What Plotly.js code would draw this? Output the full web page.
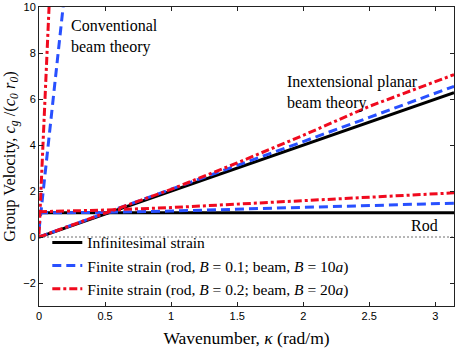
<!DOCTYPE html>
<html>
<head>
<meta charset="utf-8">
<script src="https://cdn.plot.ly/plotly-3.0.1.min.js"></script>
<style>
  html, body { margin: 0; padding: 0; background: #fff; }
  #plot { width: 456px; height: 349px; }
</style>
</head>
<body>
<div id="plot"></div>
<script>
// wavenumber samples (rad/m)
const kappa = [0, 0.5, 1, 1.5, 2, 2.5, 3.1416];

// infinitesimal strain: rod and inextensional beam
const rodInf = [1.05, 1.05, 1.05, 1.05, 1.05, 1.05, 1.05];
const beamInf = [0, 1.0, 2.0, 3.0, 4.0, 5.0, 6.28];

// finite strain, B = 0.1 / 10a
const rodB1 = [1.05, 1.07, 1.13, 1.21, 1.29, 1.37, 1.47];
const beamB1 = [0, 1.03, 2.07, 3.11, 4.15, 5.2, 6.55];

// finite strain, B = 0.2 / 20a
const rodB2 = [1.1, 1.17, 1.28, 1.42, 1.57, 1.73, 1.92];
const beamB2 = [0, 1.02, 2.07, 3.22, 4.42, 5.68, 7.06];

// conventional beam theory branches (steep, near kappa = 0)
const kappaConvB1 = [0, 0.05, 0.1, 0.15, 0.19];
const convB1 = [0.3, 2.9, 5.6, 8.2, 10.4];
const kappaConvB2 = [0, 0.025, 0.05, 0.08];
const convB2 = [0.1, 3.4, 6.7, 10.5];

const zeroX = [0, 3.1416];
const zeroY = [0, 0];

const black = 'rgb(0,0,0)';
const blue = 'rgb(40,80,255)';
const red = 'rgb(240,10,30)';
const serif = '"Liberation Serif", "DejaVu Serif", serif';
const sans = '"Liberation Sans", Arial, sans-serif';

const dashBlue = '9px,5px';
const dashRed = '8px,3px,3px,3px';

const traces = [
    { x: zeroX, y: zeroY, mode: 'lines', showlegend: false, hoverinfo: 'none',
      line: { color: 'rgb(110,110,110)', width: 1, dash: '2px,2px' } },
    { x: kappa, y: rodInf, mode: 'lines', name: 'Infinitesimal strain',
      line: { color: black, width: 3 } },
    { x: kappa, y: beamInf, mode: 'lines', showlegend: false,
      line: { color: black, width: 3 } },
    { x: kappa, y: rodB1, mode: 'lines', name: 'Finite strain (rod, <i>B</i> = 0.1; beam, <i>B</i> = 10<i>a</i>)',
      line: { color: blue, width: 3, dash: dashBlue } },
    { x: kappa, y: beamB1, mode: 'lines', showlegend: false,
      line: { color: blue, width: 3, dash: dashBlue } },
    { x: kappaConvB1, y: convB1, mode: 'lines', showlegend: false,
      line: { color: blue, width: 3, dash: dashBlue } },
    { x: kappa, y: rodB2, mode: 'lines', name: 'Finite strain (rod, <i>B</i> = 0.2; beam, <i>B</i> = 20<i>a</i>)',
      line: { color: red, width: 3, dash: dashRed } },
    { x: kappa, y: beamB2, mode: 'lines', showlegend: false,
      line: { color: red, width: 3, dash: dashRed } },
    { x: kappaConvB2, y: convB2, mode: 'lines', showlegend: false,
      line: { color: red, width: 3, dash: dashRed } }
];

const axisCommon = {
    showgrid: false,
    zeroline: false,
    showline: true,
    linecolor: '#222',
    linewidth: 1,
    mirror: 'ticks',
    ticks: 'inside',
    ticklen: 4,
    tickcolor: '#222',
    tickfont: { family: sans, size: 11, color: '#000' }
};

const layout = {
    width: 456,
    height: 349,
    margin: { l: 39, r: 2, t: 7, b: 43 },
    paper_bgcolor: '#fff',
    plot_bgcolor: '#fff',
    font: { family: serif, color: '#000' },
    xaxis: Object.assign({}, axisCommon, {
        range: [0, 3.1416],
        tickmode: 'array',
        tickvals: [0, 0.5, 1, 1.5, 2, 2.5, 3],
        ticktext: ['0', '0.5', '1', '1.5', '2', '2.5', '3'],
        title: { text: 'Wavenumber, <i>κ</i> (rad/m)', font: { family: serif, size: 17.5 }, standoff: 10 }
    }),
    yaxis: Object.assign({}, axisCommon, {
        range: [-3, 10],
        tickmode: 'array',
        tickvals: [-2, 0, 2, 4, 6, 8, 10],
        title: { text: 'Group Velocity, <i>c<sub>g</sub></i> /(<i>c<sub>0</sub> r<sub>0</sub></i>)', font: { family: serif, size: 16.5 }, standoff: 4 }
    }),
    legend: {
        x: 0.02, y: 0.268, xanchor: 'left', yanchor: 'top',
        bgcolor: 'rgba(0,0,0,0)',
        font: { family: serif, size: 15.5 },
        itemwidth: 30,
        tracegroupgap: 0
    },
    annotations: [
        { x: 0.225, y: 8.7, xref: 'x', yref: 'y', xanchor: 'left', yanchor: 'middle', align: 'left', showarrow: false,
          text: 'Conventional<br>beam theory', font: { family: serif, size: 16 } },
        { x: 1.86, y: 6.3, xref: 'x', yref: 'y', xanchor: 'left', yanchor: 'middle', align: 'left', showarrow: false,
          text: 'Inextensional planar<br>beam theory', font: { family: serif, size: 16 } },
        { x: 2.8, y: 0.5, xref: 'x', yref: 'y', xanchor: 'left', yanchor: 'middle', align: 'left', showarrow: false,
          text: 'Rod', font: { family: serif, size: 16 } }
    ]
};

Plotly.newPlot('plot', traces, layout, { displayModeBar: false, staticPlot: true });
</script>
</body>
</html>
